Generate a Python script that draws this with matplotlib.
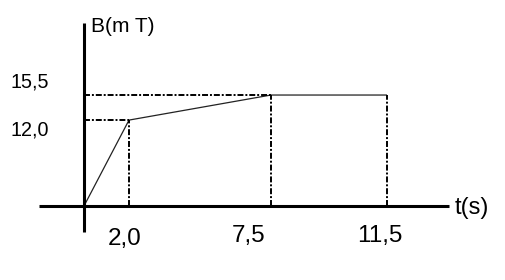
import numpy as np
import matplotlib
matplotlib.use("Agg")
import matplotlib.pyplot as plt

# ---- data ----
t_values = [0.0, 2.0, 7.5, 11.5]
B_values = [0.0, 12.0, 15.5, 15.5]
x_tick_labels = ["2,0", "7,5", "11,5"]
y_tick_labels = ["15,5", "12,0"]
x_label = "t(s)"
y_label = "B(m T)"

plt.rcParams['font.family'] = ['Liberation Sans', 'DejaVu Sans']
plt.rcParams['lines.scale_dashes'] = False

W, H = 506, 280
fig = plt.figure(figsize=(W / 100, H / 100), dpi=100)
ax = fig.add_axes([39 / W, (H - 232) / H, 410 / W, 209 / H])

# schematic (non-proportional) time axis, as drawn in the original
knots_t = [-10.0, 0.0, 2.0, 7.5, 11.5, 30.0]
knots_p = [-225.0, 0.0, 45.0, 187.0, 303.0, 839.5]
def fwd(v):
    return np.interp(v, knots_t, knots_p)
def inv(v):
    return np.interp(v, knots_p, knots_t)
ax.set_xscale('function', functions=(fwd, inv))
ax.set_xlim(-2.0, 13.64)
ax.set_ylim(-3.63, 25.56)

for s in ['top', 'right']:
    ax.spines[s].set_visible(False)
for s in ['left', 'bottom']:
    ax.spines[s].set_position(('data', 0))
    ax.spines[s].set_linewidth(2.2)
    ax.spines[s].set_capstyle('butt')
ax.set_xticks([])
ax.set_yticks([])
ax.patch.set_visible(False)

# main curve
ax.plot(t_values, B_values, color='#222222', lw=0.9, solid_capstyle='butt')

# dash-dot guide lines
dash = (0, (4.3, 1.4, 1.4, 1.4))
gkw = dict(color='black', lw=1.4, linestyle=dash)
ax.plot([0, t_values[1]], [B_values[1], B_values[1]], **gkw)
ax.plot([0, t_values[2]], [B_values[2], B_values[2]], **gkw)
for tv, bv in zip(t_values[1:], B_values[1:]):
    ax.plot([tv, tv], [0, bv], **gkw)

# labels (placed as in the original drawing, in pixels)
def ftext(px, py_base, s, size):
    fig.text(px / W, 1 - py_base / H, s, fontsize=size, ha='left', va='baseline')

ftext(11, 88, y_tick_labels[0], 14.2)
ftext(11, 135, y_tick_labels[1], 14.2)
ftext(108, 245, x_tick_labels[0], 17.5)
ftext(232, 242, x_tick_labels[1], 17.5)
ftext(357, 242, x_tick_labels[2], 17.5)
ftext(91, 32, y_label, 15)
ftext(455, 214, x_label, 17)

fig.savefig("out.png", dpi=100)
